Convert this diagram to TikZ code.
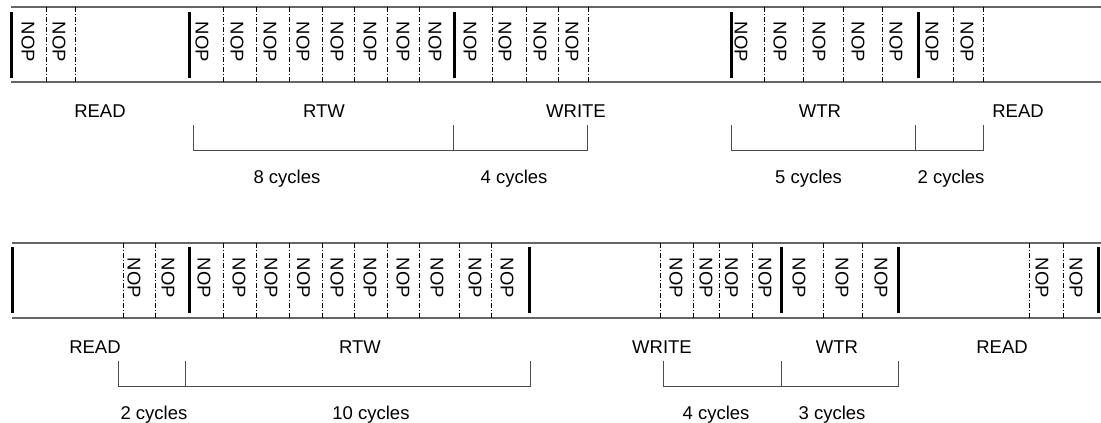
\documentclass[tikz,border=0pt]{standalone}
\usepackage{fontspec}
\setmainfont{Liberation Sans}
\begin{document}
\begin{tikzpicture}[x=1pt,y=-1pt,
  rail/.style={draw=black!60, line width=1.2pt},
  slot/.style={draw=black, line width=0.8pt, dash pattern=on 5pt off 2pt on 1pt off 2pt},
  cmdbar/.style={draw=black, line width=3pt},
  nop/.style={rotate=-90, inner sep=0pt, font=\fontsize{18.5}{22}\selectfont},
  lbl/.style={anchor=base, inner sep=0pt, font=\fontsize{18.5}{22}\selectfont},
  brk/.style={draw=black!70, line width=1pt}]
\useasboundingbox (0,0) rectangle (1101,423);
% ---------- top row ----------
\draw[rail] (11,7) -- (1101,7);
\draw[rail] (11,82) -- (1101,82);
\foreach \x in {46,75,223,256,289,322,354,387,419,492,526,558,588,764,803,843,882,953,983}
  \draw[slot] (\x,7) -- (\x,82);
\foreach \x in {11,189,454,731,918}
  \draw[cmdbar] (\x,12) -- (\x,78);
\foreach \x [count=\i] in {28,59,202,237,270,303,337,370,403,435,470,505,540,572,741,780,819,858,896,932,967}
  \node[nop] (t\i) at (\x,42) {NOP};
\node[lbl] (tread1) at (100,117.3) {READ};
\node[lbl] (trtw) at (324,117.3) {RTW};
\node[lbl] (twrite) at (576,117.3) {WRITE};
\node[lbl] (twtr) at (820,117.3) {WTR};
\node[lbl] (tread2) at (1018,117.3) {READ};
\draw[brk] (193,125) -- (193,150) -- (587,150) -- (587,125);
\draw[brk] (453,125) -- (453,150);
\draw[brk] (731,125) -- (731,150) -- (983,150) -- (983,125);
\draw[brk] (915,125) -- (915,150);
\node[lbl] (tc1) at (287,183.5) {8 cycles};
\node[lbl] (tc2) at (514,183.5) {4 cycles};
\node[lbl] (tc3) at (808.5,183.5) {5 cycles};
\node[lbl] (tc4) at (951,183.5) {2 cycles};
% ---------- bottom row ----------
\draw[rail] (12,243) -- (1101,243);
\draw[rail] (12,318) -- (1101,318);
\foreach \x in {123,155,223,256,289,322,354,387,419,459,491,660,693,719,752,823,862,1029,1063}
  \draw[slot] (\x,243) -- (\x,318);
\foreach \x in {12,189,529,781,898,1098}
  \draw[cmdbar] (\x,247) -- (\x,313);
\foreach \x [count=\i] in {134,168,204,239,271,303.5,337,370,403,437,475,507,676,706,731.5,765,799,842,881,1042,1076}
  \node[nop] (b\i) at (\x,278) {NOP};
\node[lbl] (bread1) at (95,353.3) {READ};
\node[lbl] (brtw) at (360,353.3) {RTW};
\node[lbl] (bwrite) at (662,353.3) {WRITE};
\node[lbl] (bwtr) at (837,353.3) {WTR};
\node[lbl] (bread2) at (1002,353.3) {READ};
\draw[brk] (118,361) -- (118,386) -- (530,386) -- (530,361);
\draw[brk] (185,361) -- (185,386);
\draw[brk] (663,361) -- (663,386) -- (898,386) -- (898,361);
\draw[brk] (781,361) -- (781,386);
\node[lbl] (bc1) at (154,419.5) {2 cycles};
\node[lbl] (bc2) at (371,419.5) {10 cycles};
\node[lbl] (bc3) at (716,419.5) {4 cycles};
\node[lbl] (bc4) at (832,419.5) {3 cycles};
\end{tikzpicture}
\end{document}
